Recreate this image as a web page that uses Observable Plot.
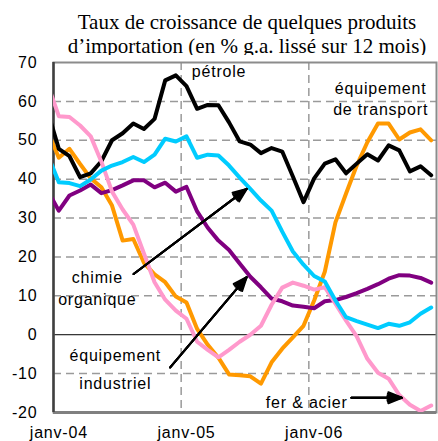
<!DOCTYPE html>
<html>
<head>
<meta charset="utf-8">
<script src="https://cdn.jsdelivr.net/npm/d3@7"></script>
<script src="https://cdn.jsdelivr.net/npm/@observablehq/plot@0.6"></script>
<style>
  html, body { margin: 0; padding: 0; background: #fff; overflow: hidden; }
  #title {
    position: absolute; left: 0; top: 0; width: 438px; box-sizing: border-box;
    padding: 10px 0 0 56px; text-align: center;
    font-family: "Liberation Serif", "Times New Roman", serif; font-size: 21px; line-height: 24px; color: #000;
  }
  #chart { position: absolute; left: 0; top: 55px; }
  #chart svg text { letter-spacing: 0.8px; }
</style>
</head>
<body>
<div id="title">Taux de croissance de quelques produits<br>d’importation (en % g.a. lissé sur 12 mois)</div>
<div id="chart"></div>
<script>
// Months: déc-03 (index -1) to déc-06 (index 35); points sit mid-month
const monthIndex = d3.range(-1, 36);
const tickLabels = ["janv-04", "janv-05", "janv-06"];
const yTicks = [-20, -10, 0, 10, 20, 30, 40, 50, 60, 70];

const petrole = [57, 47.8, 45.9, 40.5, 41.5, 44.6, 50.0, 51.8, 54.3, 52.9, 55.5, 65.4, 66.7, 63.9, 58.1, 59.1, 59.0, 54.6, 49.7, 48.9, 46.7, 48.0, 47.1, 40.7, 34.1, 40.2, 44.0, 45.1, 41.5, 44.0, 46.4, 44.8, 48.7, 47.4, 42.0, 43.3, 41.0];
const chimieOrganique = [46, 39.2, 39.0, 38.2, 39.9, 42.2, 43.5, 44.4, 45.7, 44.4, 46.3, 50.4, 49.7, 51.0, 45.5, 46.3, 46.1, 43.5, 40.4, 37.5, 34.5, 31.9, 26.5, 21.4, 18.0, 15.1, 13.7, 8.8, 4.5, 3.5, 2.6, 1.7, 2.8, 2.3, 3.2, 5.4, 7.0];
const equipIndustriel = [36.8, 31.9, 35.8, 37.1, 38.6, 36.4, 37.2, 38.4, 39.7, 39.7, 37.9, 39.1, 36.8, 38.0, 31.7, 27.5, 24.2, 21.8, 18.3, 14.9, 12.2, 9.3, 8.6, 7.5, 7.2, 6.8, 8.6, 8.9, 9.7, 10.7, 11.8, 13.0, 14.4, 15.3, 15.2, 14.6, 13.4];
const equipTransport = [52, 45.5, 47.8, 43.9, 40.2, 37.9, 33.2, 24.2, 24.6, 18.5, 15.5, 13.5, 9.8, 8.3, 1.5, -2.6, -5.9, -10.2, -10.4, -10.7, -12.6, -7.1, -3.6, -0.7, 2.3, 8.8, 16.2, 28.9, 36.3, 43.5, 49.5, 54.3, 54.3, 50.2, 52.0, 52.8, 50.0];
const ferAcier = [64, 56.2, 56.0, 53.8, 51.0, 44.5, 36.8, 32.2, 28.3, 20.9, 13.5, 9.0, 6.2, 4.1, -1.8, -3.9, -5.8, -3.9, -1.8, 0.0, 2.3, 7.7, 12.1, 13.4, 12.6, 11.6, 12.2, 8.0, 3.6, -0.4, -6.2, -9.8, -11.3, -15.5, -18.0, -19.6, -18.2];

const series = [
  {name: "équipement de transport", values: equipTransport, color: "#FF9900"},
  {name: "pétrole", values: petrole, color: "#000000"},
  {name: "équipement industriel", values: equipIndustriel, color: "#800080"},
  {name: "fer & acier", values: ferAcier, color: "#FF99CC"},
  {name: "chimie organique", values: chimieOrganique, color: "#00CCFF"}
];

// annotations (month, value)
const notes = [
  {text: "pétrole", m: 15.56, v: 66.2},
  {text: "équipement", m: 30.75, v: 61.8},
  {text: "de transport", m: 30.75, v: 56.4},
  {text: "chimie", m: 4.12, v: 13.3},
  {text: "organique", m: 4.12, v: 7.7},
  {text: "équipement", m: 5.81, v: -6.7},
  {text: "industriel", m: 5.81, v: -13.9},
  {text: "fer & acier", m: 23.8, v: -18.8}
];
const arrows = [
  {m1: 7.53, v1: 15.6, m2: 18.16, v2: 37.5},
  {m1: 10.97, v1: -8.4, m2: 18.16, v2: 14.8},
  {m1: 28.0, v1: -16.2, m2: 32.75, v2: -16.2}
];

const lineMarks = series.map(s =>
  Plot.line(s.values.map((v, k) => ({m: monthIndex[k] + 0.5, v})), {
    x: "m", y: "v", stroke: s.color, strokeWidth: 4, strokeLinejoin: "round", clip: true
  })
);

// filled-looking arrowheads: overlay several heads of decreasing angle
const arrowMarks = [44, 32, 20, 8].map(a =>
  Plot.arrow(arrows, {x1: "m1", y1: "v1", x2: "m2", y2: "v2", stroke: "#000", strokeWidth: 2, headLength: 11, headAngle: a})
);

const chart = Plot.plot({
  width: 438,
  height: 386,
  marginTop: 7,
  marginBottom: 29,
  marginLeft: 53,
  marginRight: 2,
  style: {fontFamily: "'Liberation Sans', Arial, sans-serif", fontSize: "16px", color: "#000", background: "#fff", overflow: "visible"},
  x: {
    domain: [0, 36],
    ticks: [0.5, 12.5, 24.5],
    tickFormat: d => tickLabels[Math.round((d - 0.5) / 12)],
    tickSize: 0,
    tickPadding: 14,
    label: null
  },
  y: {
    domain: [-20, 70],
    ticks: yTicks,
    tickFormat: d => String(d),
    tickSize: 0,
    tickPadding: 16,
    label: null
  },
  marks: [
    Plot.ruleY(yTicks.filter(t => t > -20 && t < 70 && t !== 0), {stroke: "#9a9a9a", strokeWidth: 1.5, strokeDasharray: "8,5"}),
    Plot.ruleX([12, 24], {stroke: "#9a9a9a", strokeWidth: 1.5, strokeDasharray: "8,5"}),
    Plot.ruleY([0], {stroke: "#000", strokeWidth: 1}),
    Plot.frame({stroke: "#8c8c8c", strokeWidth: 2}),
    Plot.ruleY([-20], {stroke: "#808080", strokeWidth: 3}),
    Plot.ruleX([0], {stroke: "#404040", strokeWidth: 2.5}),
    ...lineMarks,
    ...arrowMarks,
    Plot.text(notes, {x: "m", y: "v", text: "text", lineAnchor: "bottom", textAnchor: "middle", fontSize: 16, fill: "#000"})
  ]
});
document.getElementById("chart").appendChild(chart);
</script>
</body>
</html>
